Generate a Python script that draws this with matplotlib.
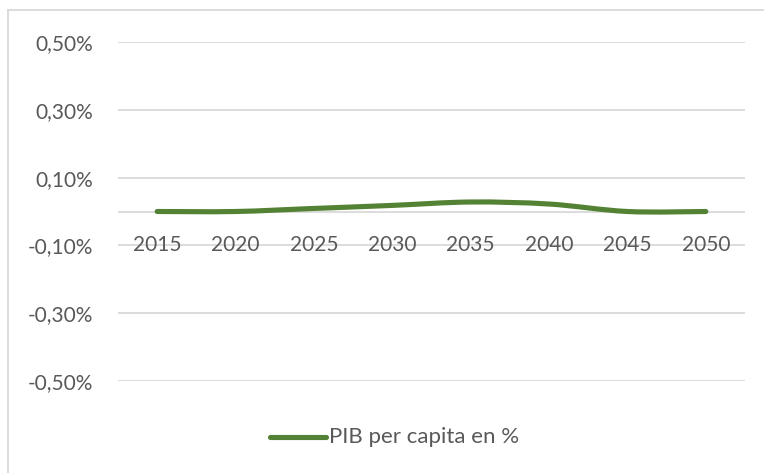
import numpy as np
import matplotlib.pyplot as plt
from matplotlib.path import Path
from matplotlib.patches import PathPatch
from matplotlib.lines import Line2D

anios = ['2015', '2020', '2025', '2030', '2035', '2040', '2045', '2050']
pib_pc = [0.0, 0.0, 0.009, 0.018, 0.028, 0.022, 0.0, 0.0]  # en %
yticks = [-0.5, -0.3, -0.1, 0.1, 0.3, 0.5]

verde = '#548235'
gris_txt = '#595959'
gris_grid = '#D9D9D9'

plt.rcParams['font.family'] = ['Lato', 'DejaVu Sans']

fig = plt.figure(figsize=(7.64, 4.73), dpi=100)
ax = fig.add_axes([118/764, 1-381/473, (745-118)/764, (381-42)/473])

x = np.arange(len(anios))
y = np.array(pib_pc)

# linea suavizada tipo excel (bezier entre los puntos)
verts = [(x[0], y[0])]
codes = [Path.MOVETO]
t = 1/6
for i in range(len(x)-1):
    p0 = (x[max(i-1, 0)], y[max(i-1, 0)])
    p1 = (x[i], y[i])
    p2 = (x[i+1], y[i+1])
    p3 = (x[min(i+2, len(x)-1)], y[min(i+2, len(x)-1)])
    c1 = (p1[0] + (p2[0]-p0[0])*t, p1[1] + (p2[1]-p0[1])*t)
    c2 = (p2[0] - (p3[0]-p1[0])*t, p2[1] - (p3[1]-p1[1])*t)
    verts += [c1, c2, p2]
    codes += [Path.CURVE4]*3
ax.add_patch(PathPatch(Path(verts, codes), fill=False, edgecolor=verde,
                       lw=3.7, capstyle='round', joinstyle='round', zorder=3))

ax.set_xlim(-0.5, len(anios)-0.5)
ax.set_ylim(-0.5, 0.5)
for v in yticks:
    ax.axhline(v, color=gris_grid, lw=1.3, zorder=1)
ax.axhline(0, color=gris_grid, lw=1.3, zorder=1)

ax.set_yticks(yticks)
ax.set_yticklabels([('%.2f' % v).replace('.', ',') + '%' for v in yticks])
ax.set_xticks([])
for xi, lab in zip(x, anios):
    ax.text(xi, -0.1, lab, ha='center', va='center', fontsize=15,
            color=gris_txt, zorder=2)
ax.tick_params(axis='y', length=0, pad=18, labelsize=15, labelcolor=gris_txt)
for s in ax.spines.values():
    s.set_visible(False)

# leyenda
fig.add_artist(Line2D([270/764, 326/764], [1-437/473]*2, color=verde, lw=3.7,
                      solid_capstyle='round'))
fig.text(329/764, 1-437/473, 'PIB per capita en %', fontsize=16,
         color=gris_txt, va='center', ha='left')

# borde del grafico
fig.add_artist(Line2D([8/764, 8/764], [0, 1-10/473], color=gris_grid, lw=1.3))
fig.add_artist(Line2D([8/764, 1], [1-10/473, 1-10/473], color=gris_grid, lw=1.3))

plt.savefig('out.png', dpi=100)
